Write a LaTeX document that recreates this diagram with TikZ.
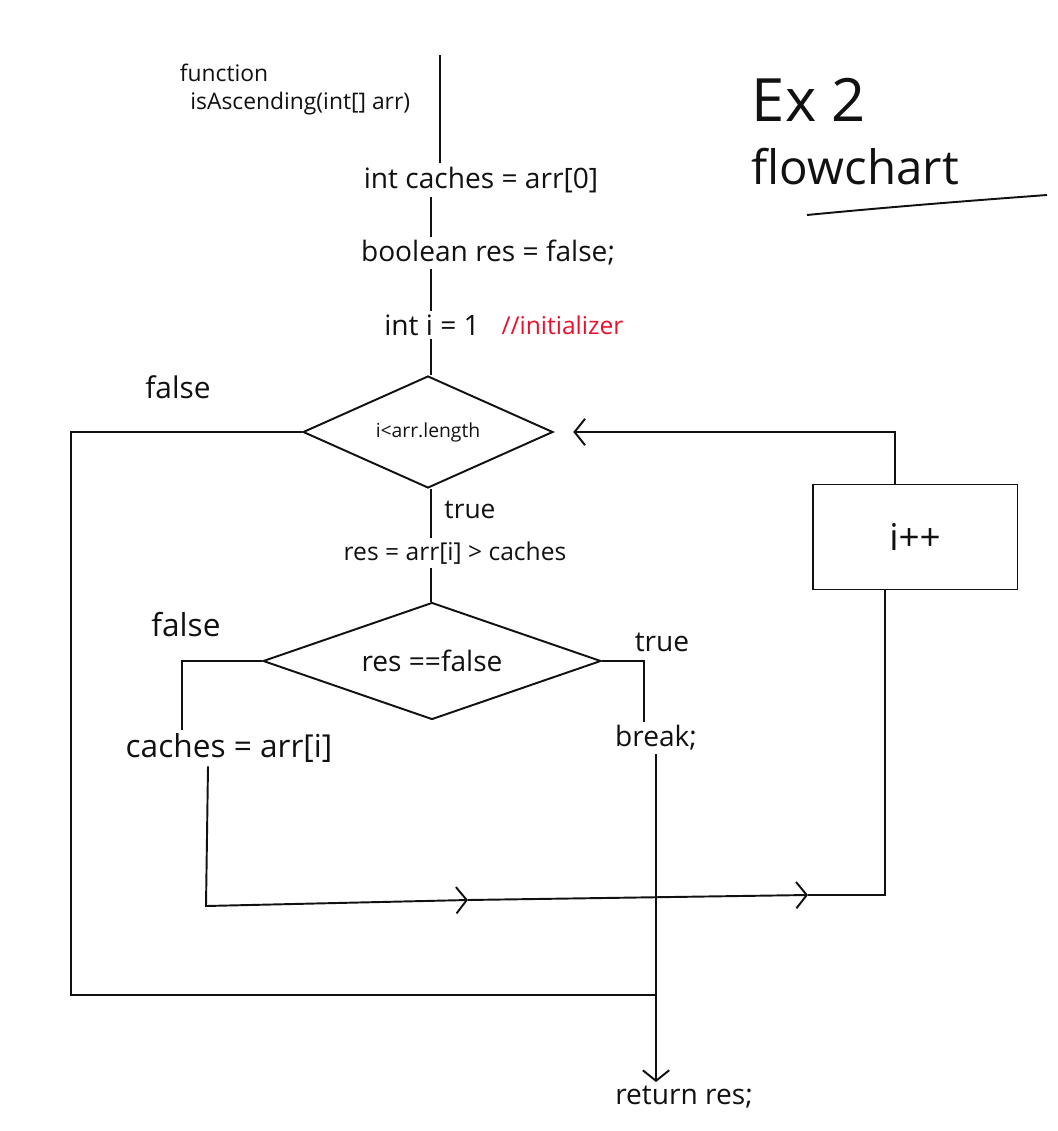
\documentclass[tikz,border=0pt]{standalone}
\usepackage{fontspec}
\setmainfont{Open Sans}
\usepackage{tikz}
\usetikzlibrary{positioning,arrows.meta,calc,shapes.geometric}
\definecolor{inkblack}{HTML}{111111}
\definecolor{notered}{HTML}{E8112D}

\begin{document}
\begin{tikzpicture}[
    x=0.02cm, y=-0.02cm,
    every node/.style={inner sep=2pt, text=inkblack},
    code/.style={font=\fontsize{16}{18}\selectfont},
    small/.style={font=\fontsize{13}{16}\selectfont},
    branch/.style={font=\fontsize{16}{18}\selectfont},
    decision/.style={diamond, aspect=3, draw=inkblack, line width=1.1pt, inner sep=0pt},
    stepbox/.style={draw=inkblack, line width=1.1pt, font=\fontsize{21}{24}\selectfont},
    link/.style={draw=inkblack, line width=1.1pt},
    flow/.style={link, -{Straight Barb[length=6pt, width=15pt, line width=1.1pt]}}
  ]
  \useasboundingbox (0,0) rectangle (1057,1131);

  \coordinate (start) at (440,55);
  \coordinate (spine) at (431,0);

  \node[small, align=left, anchor=north west] (fn) at (176,60)
    {function\\\hspace*{6pt}isAscending(int[] arr)};
  \node[code] (caches)  at (481,180) {int caches = arr[0]};
  \node[code] (resinit) at (488,253) {boolean res = false;};
  \node[code] (iinit)   at (432,325) {int i = 1};
  \node[small, font=\fontsize{14}{16}\selectfont, text=notered, right=8pt of iinit] (note) {//initializer};

  \node[decision, minimum width=5cm, minimum height=2.24cm, font=\fontsize{11}{13}\selectfont]
    (cond) at (428,432) {i<arr.length};
  \node[branch, font=\fontsize{17}{19}\selectfont] (falseA) at (178,387) {false};
  \node[branch, font=\fontsize{15}{17}\selectfont] (trueA)  at (470,510) {true};
  \node[small, font=\fontsize{14}{16}\selectfont] (resset)  at (455,553) {res = arr[i] > caches};

  \node[decision, minimum width=6.76cm, minimum height=2.34cm, font=\fontsize{16}{18}\selectfont]
    (check) at (432,661) {res ==false};
  \node[branch, font=\fontsize{18}{20}\selectfont] (falseB) at (186,625) {false};
  \node[branch] (trueB)  at (662,642) {true};
  \node[code, font=\fontsize{18}{20}\selectfont] (upd) at (229,748) {caches = arr[i]};
  \node[code] (brk) at (656,738) {break;};
  \node[code] (ret) at (684,1097) {return res;};

  \node[stepbox, minimum width=4.1cm, minimum height=2.1cm] (inc) at (915,537) {i++};

  \node[align=left, anchor=north west, font=\fontsize{27}{36}\selectfont] (title) at (748,74)
    {{\fontsize{34}{36}\selectfont Ex 2}\\flowchart};
  \draw[link] (807,215) .. controls (900,206) and (980,200) .. (1047,195);

  % main spine of the function
  \draw[link] (start) -- (start |- caches.north);
  \foreach \a/\b in {caches/resinit, resinit/iinit, iinit/cond, cond/resset, resset/check}
    {\draw[link] (\a.south -| spine) -- (\b.north -| spine);}

  % leaving the loop
  \coordinate (exitB) at (71,995);
  \draw[link] (cond.west) -| (exitB) -- (exitB -| brk.south);
  \draw[flow] (brk.south) -- (brk.south |- ret.north);

  % the two branches of the check
  \draw[link] (check.west) -| ($(upd.north)+(-47,0)$);
  \draw[link] (check.east) -| ($(brk.north)+(-12,0)$);

  % back round to the condition
  \coordinate (lpA) at (206,906);
  \coordinate (lpB) at (468,900);
  \coordinate (lpC) at (808,895);
  \draw[flow] ($(upd.south)+(-21,0)$) -- (lpA) -- (lpB);
  \draw[flow] (lpB) -- (lpC);
  \draw[link] (lpC) -| ($(inc.south)+(-30,0)$);
  \draw[flow, shorten >=11pt] ($(inc.north)+(-20,0)$) |- (cond.east);

\end{tikzpicture}
\end{document}
